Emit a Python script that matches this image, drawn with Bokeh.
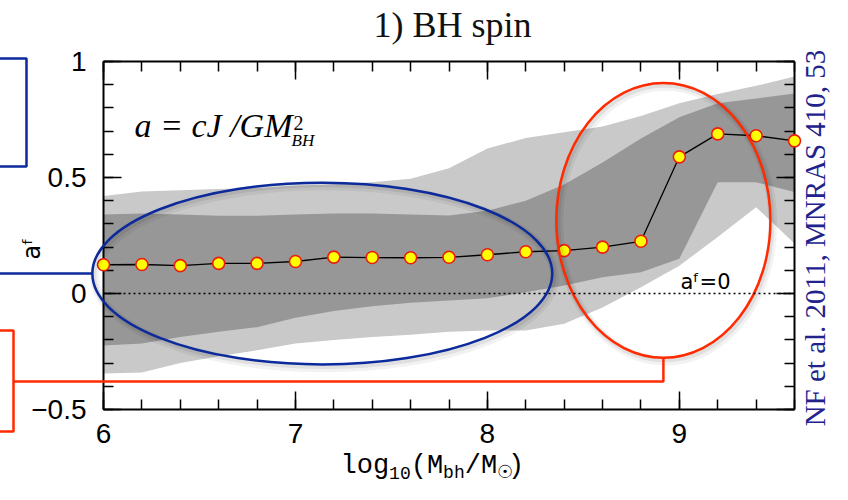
import math
from bokeh.plotting import figure
from bokeh.models import Range1d, LinearAxis, SingleIntervalTicker, Span, CustomJSTickFormatter
from bokeh.core.properties import value
from bokeh.embed import file_html
from bokeh.resources import INLINE

# ---------------- data ----------------
log_mbh = [6.0, 6.2, 6.4, 6.6, 6.8, 7.0, 7.2, 7.4, 7.6, 7.8,
           8.0, 8.2, 8.4, 8.6, 8.8, 9.0, 9.2, 9.4, 9.6]
spin_median = [0.124, 0.125, 0.12, 0.13, 0.13, 0.138, 0.157, 0.155, 0.154, 0.156,
               0.167, 0.18, 0.185, 0.20, 0.225, 0.589, 0.688, 0.68, 0.658]
outer_hi = [0.42, 0.44, 0.445, 0.45, 0.455, 0.465, 0.47, 0.48, 0.495, 0.54,
            0.625, 0.67, 0.695, 0.72, 0.765, 0.82, 0.86, 0.895, 0.935]
outer_lo = [-0.345, -0.34, -0.30, -0.27, -0.245, -0.215, -0.20, -0.188, -0.178, -0.165,
            -0.16, -0.16, -0.13, -0.06, 0.027, 0.12, 0.243, 0.372, 0.216]
inner_hi = [0.34, 0.345, 0.34, 0.335, 0.335, 0.34, 0.345, 0.345, 0.34, 0.336,
            0.357, 0.40, 0.47, 0.565, 0.668, 0.76, 0.82, 0.84, 0.862]
inner_lo = [-0.224, -0.216, -0.188, -0.165, -0.145, -0.105, -0.075, -0.055, -0.04, -0.03,
            -0.02, 0.005, 0.034, 0.07, 0.092, 0.15, 0.48, 0.48, 0.437]

y_major_ticks = [-0.5, 0.0, 0.5, 1.0]
y_tick_labels = ["\u22120.5", "0", "0.5", "1"]

# highlight ellipses (centre x, centre y, width, height in data units)
hl_x = [7.14, 8.917]
hl_y = [0.086, 0.315]
hl_w = [2.396, 1.115]
hl_h = [0.784, 1.184]
hl_color = ["#0c2a9c", "#ff2a00"]

X0, X1 = 6.0, 9.6
Y0, Y1 = -0.5, 1.0
W, H = 832, 484
FL, FR, FT, FB = 103, 794, 61, 409   # frame edges on the canvas


def px2x(px):
    return X0 + (px - FL) / (FR - FL) * (X1 - X0)


def py2y(py):
    return Y1 - (py - FT) / (FB - FT) * (Y1 - Y0)


p = figure(width=W, height=H, x_range=Range1d(X0, X1), y_range=Range1d(Y0, Y1),
           output_backend="svg", toolbar_location=None,
           min_border_left=FL, min_border_right=W - FR, min_border_top=FT, min_border_bottom=H - FB)
p.grid.visible = False
p.outline_line_color = None
p.background_fill_color = "white"
p.border_fill_color = "white"

bottom_ax = p.below[0]
left_ax = p.left[0]
bottom_ax.ticker = SingleIntervalTicker(interval=1, num_minor_ticks=5)
left_ax.ticker = SingleIntervalTicker(interval=0.5, num_minor_ticks=5)
left_ax.major_label_overrides = dict(zip(y_major_ticks, y_tick_labels))

top_ax = LinearAxis(ticker=SingleIntervalTicker(interval=1, num_minor_ticks=5),
                    formatter=CustomJSTickFormatter(code="return ''"))
right_ax = LinearAxis(ticker=SingleIntervalTicker(interval=0.5, num_minor_ticks=5),
                      formatter=CustomJSTickFormatter(code="return ''"))
p.add_layout(top_ax, "above")
p.add_layout(right_ax, "right")

for ax in [bottom_ax, left_ax, top_ax, right_ax]:
    ax.axis_line_width = 2
    ax.axis_line_color = "black"
    ax.major_tick_in = 18
    ax.major_tick_out = 0
    ax.minor_tick_in = 10
    ax.minor_tick_out = 0
    ax.major_tick_line_width = 1.5
    ax.minor_tick_line_width = 1.5
    ax.major_tick_line_color = "black"
    ax.minor_tick_line_color = "black"
    ax.major_label_text_font = "Liberation Sans"
    ax.major_label_text_font_size = "28px"
    ax.major_label_text_color = "black"
top_ax.major_label_standoff = 0
right_ax.major_label_standoff = 0
bottom_ax.major_label_standoff = 14
left_ax.major_label_standoff = 17

# bands
p.varea(x=log_mbh, y1=outer_lo, y2=outer_hi, fill_color="#c9c9c9")
p.varea(x=log_mbh, y1=inner_lo, y2=inner_hi, fill_color="#979797")

p.add_layout(Span(location=0, dimension="width", line_color="black",
                  line_dash="2 3", line_width=1.4))

p.line(log_mbh, spin_median, line_color="black", line_width=1.3)
p.scatter(log_mbh, spin_median, size=12, fill_color="#ffff00",
          line_color="#ee1c10", line_width=1.6, level="annotation")

# soft shadows + ellipses
for dx, dy, lw, a in [(0.012, -0.014, 9, 0.05), (0.008, -0.009, 5, 0.07)]:
    p.ellipse(x=[v + dx for v in hl_x], y=[v + dy for v in hl_y], width=hl_w, height=hl_h,
              fill_color=None, line_color="black", line_alpha=a, line_width=lw,
              level="annotation")
p.ellipse(x=hl_x, y=hl_y, width=hl_w, height=hl_h, fill_color=None,
          line_color=hl_color, line_width=2.5, level="annotation")

# connectors / brackets that reach outside the frame
off = px2x(-12)
p.multi_line(xs=[[off, px2x(26), px2x(26), off], [off, hl_x[0] - hl_w[0] / 2]],
             ys=[[py2y(58), py2y(58), py2y(166), py2y(166)], [hl_y[0], hl_y[0]]],
             line_color=hl_color[0], line_width=2.5, level="annotation")
p.multi_line(xs=[[off, px2x(13), px2x(13), off], [hl_x[1], hl_x[1], px2x(13)]],
             ys=[[py2y(330), py2y(330), py2y(431), py2y(431)],
                 [hl_y[1] - hl_h[1] / 2, py2y(381), py2y(381)]],
             line_color=hl_color[1], line_width=2.5, level="annotation")

BASE_FIX = 0.25   # measured shift of the alphabetic baseline, in em


def txt(px, py, s, font, size, color="black", style="normal", align="left", angle=0.0):
    k = BASE_FIX * size
    px = px - math.sin(angle) * k
    py = py - math.cos(angle) * k
    p.text(x=[px2x(px)], y=[py2y(py)], text=[s], text_font=value(font),
           text_font_size=value(f"{size}px"), text_font_style=style, text_color=color,
           text_align=align, text_baseline="alphabetic", angle=angle, level="annotation")


# title
txt(452, 33, "1) BH spin", "Liberation Serif", 36, color="#111111", align="center")

# formula
txt(292, 133, "a = cJ /GM", "Liberation Serif", 34, style="italic", align="right")
txt(293, 127, "2", "Liberation Serif", 20)
txt(291, 144, "BH", "Liberation Serif", 17, style="italic")

# a^f = 0 note
txt(680, 287, "a\u1da0=0", "DejaVu Sans", 21)

# y axis label
txt(37, 248, "a\u1da0", "DejaVu Sans", 24, align="center", angle=math.pi / 2)

# x axis label, typewriter font with subscripts
xl_parts = [("log", 340, 27, 0), ("10", 388.6, 18, 5), ("(M", 410.2, 27, 0),
            ("bh", 442.6, 18, 5), ("/M", 464.2, 27, 0), ("\u2609", 496.6, 18, 5),
            (")", 507.4, 27, 0)]
for s, px, fs, dy in xl_parts:
    txt(px, 472 + dy, s, "Liberation Mono", fs)

# citation on the right
txt(822, 237.5, "NF et al. 2011, MNRAS 410, 53", "Liberation Serif", 29,
    color="#22228c", align="center", angle=math.pi / 2)

open("out.html", "w").write(file_html(p, INLINE))
